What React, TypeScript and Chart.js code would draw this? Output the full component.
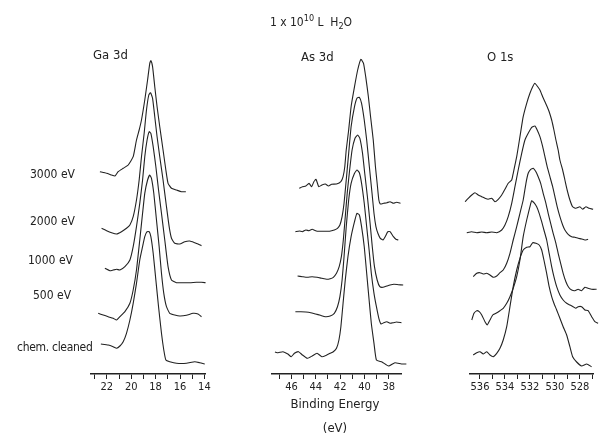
import { useEffect, useRef } from 'react';
import { Chart, registerables } from 'chart.js';

Chart.register(...registerables);

const INK = '#222';
const FONT = '"Liberation Sans Narrow", "DejaVu Sans Condensed", "Noto Sans", sans-serif';

// ---- tick values (eV) ----
const gaTicks = [14, 15, 16, 17, 18, 19, 20, 21, 22, 23];
const asTicks = [38, 39, 40, 41, 42, 43, 44, 45, 46, 47];
const oTicks = [527, 528, 529, 530, 531, 532, 533, 534, 535, 536];

// ---- labels ----
const spectraLabels = ['3000 eV', '2000 eV', '1000 eV', '500 eV', 'chem. cleaned'];
const panelTitles = ['Ga 3d', 'As 3d', 'O 1s'];

// ---- Ga 3d spectra: [binding energy eV, stacked intensity] ----
const ga3000: [number, number][] = [[22.57,202.3],[22.02,200.7],[21.61,199],[21.34,198],[21.07,202.3],[20.66,205.7],[20.25,209],[19.84,217.3],[19.57,234],[19.35,244],[19.16,254],[18.89,274],[18.66,294],[18.48,310.7],[18.39,313.3],[18.25,307.3],[18.07,287.3],[17.88,267.3],[17.66,247.3],[17.39,224],[17.16,204],[16.98,190.7],[16.70,185.7],[16.29,184],[15.88,182.3],[15.52,182.3]];
const ga2000: [number, number][] = [[22.43,145.7],[22.02,143.3],[21.61,141.3],[21.20,140],[20.80,142.3],[20.39,145.7],[20.11,149],[19.84,157.3],[19.57,174],[19.35,194],[19.16,217.3],[18.94,240.7],[18.75,264],[18.56,279],[18.42,281.3],[18.25,275.7],[18.07,257.3],[17.88,237.3],[17.66,217.3],[17.39,194],[17.11,167.3],[16.89,147.3],[16.70,135.7],[16.43,130.7],[16.02,130],[15.61,132.3],[15.20,133],[14.79,131.3],[14.52,130],[14.24,128.3]];
const ga1000: [number, number][] = [[22.16,105.7],[21.75,103.3],[21.48,104],[21.20,104.7],[20.93,104],[20.52,107.3],[20.11,114],[19.84,127.3],[19.57,147.3],[19.30,170.7],[19.07,194],[18.89,217.3],[18.70,234],[18.53,242.3],[18.39,240.7],[18.20,227.3],[17.98,207.3],[17.76,184],[17.52,160.7],[17.25,134],[16.98,107.3],[16.70,94],[16.29,91.3],[15.75,91.3],[15.20,91.3],[14.65,91.7],[14.24,91.7],[13.90,91.3]];
const ga500: [number, number][] = [[22.71,60.7],[22.30,59],[21.89,57.3],[21.48,55.7],[21.20,54],[20.93,57.3],[20.52,62.3],[20.11,70.7],[19.84,84],[19.57,104],[19.30,134],[19.07,160.7],[18.89,180.7],[18.66,194],[18.48,199],[18.34,195.7],[18.15,180.7],[17.93,154],[17.71,127.3],[17.52,100.7],[17.33,80.7],[17.11,67.3],[16.84,60.7],[16.43,59],[16.02,58],[15.47,58.7],[14.93,60.7],[14.52,60],[14.24,57.3]];
const gaClean: [number, number][] = [[22.49,30],[21.89,29],[21.48,27.3],[21.20,25.7],[20.93,28],[20.66,32.3],[20.39,40.7],[20.11,54],[19.84,70.7],[19.57,90.7],[19.30,114],[19.07,127.3],[18.89,137.3],[18.70,142.3],[18.53,142.3],[18.39,137.3],[18.20,120.7],[17.98,94],[17.76,67.3],[17.52,40.7],[17.33,24],[17.16,14],[16.84,12.3],[16.29,10.7],[15.47,10.7],[14.79,12.3],[14.38,11.3],[13.97,10]];

// ---- As 3d spectra ----
const as3000: [number, number][] = [[45.36,185.7],[45.10,187.3],[44.82,188],[44.56,190.7],[44.34,187.3],[44.16,192.3],[43.98,194.7],[43.76,187.3],[43.50,189],[43.22,190],[42.96,188],[42.70,189.7],[42.30,190],[41.94,192.3],[41.76,197.3],[41.62,207.3],[41.50,224],[41.30,244],[41.10,267.3],[40.82,287.3],[40.56,304],[40.30,314.7],[40.08,310.7],[39.90,297.3],[39.68,277.3],[39.50,257.3],[39.28,234],[39.10,207.3],[38.96,190.7],[38.82,174],[38.70,170],[38.42,170.7],[38.16,171.3],[37.90,172.3],[37.62,170.7],[37.36,171.7],[37.04,170.7]];
const as2000: [number, number][] = [[45.68,142.3],[45.36,143],[45.10,142.3],[44.82,144],[44.56,143.3],[44.30,144.7],[44.02,143.3],[43.76,142.7],[43.36,142.7],[42.96,142.7],[42.70,143.3],[42.48,144],[42.22,145.7],[42.02,149],[41.84,157.3],[41.68,170.7],[41.50,194],[41.30,220.7],[41.10,247.3],[40.82,267.3],[40.62,275.7],[40.42,276.7],[40.24,270.7],[40.02,254],[39.82,234],[39.60,207.3],[39.38,180.7],[39.22,160.7],[39.06,147.3],[38.90,140.7],[38.70,135.7],[38.48,134],[38.30,137.3],[38.08,142.3],[37.90,142.3],[37.62,137.3],[37.42,134.7],[37.22,134]];
const as1000: [number, number][] = [[45.50,98],[45.10,97.3],[44.70,96.7],[44.30,97.3],[43.90,96.7],[43.50,95.7],[43.10,94.7],[42.82,95.3],[42.56,96.7],[42.30,100.7],[42.08,107.3],[41.90,117.3],[41.74,134],[41.58,157.3],[41.42,180.7],[41.22,204],[41.02,224],[40.78,235.7],[40.56,239],[40.38,235.7],[40.16,220.7],[39.98,200.7],[39.76,177.3],[39.54,150.7],[39.36,127.3],[39.18,107.3],[38.96,94],[38.74,87.3],[38.48,86.7],[38.16,88],[37.90,89],[37.58,89.7],[37.22,89.3],[36.82,89]];
const as500: [number, number][] = [[45.68,62.3],[45.22,62.3],[44.82,62],[44.42,61.3],[44.02,60],[43.62,58.7],[43.22,57.3],[42.82,58],[42.48,60.7],[42.22,67.3],[42.02,77.3],[41.84,94],[41.68,117.3],[41.50,147.3],[41.30,174],[41.10,190.7],[40.82,200.7],[40.62,204],[40.42,201.3],[40.24,190.7],[40.02,170.7],[39.82,147.3],[39.62,124],[39.44,100.7],[39.22,80.7],[39.02,67.3],[38.82,55.7],[38.64,50],[38.42,51.3],[38.16,52.3],[37.90,50.7],[37.62,51.3],[37.36,52],[36.96,51.3]];
const asClean: [number, number][] = [[47.36,22],[47.10,21.3],[46.70,22.3],[46.30,20],[46.02,17.3],[45.76,20.7],[45.42,22.3],[45.10,19],[44.70,15.7],[44.30,18],[43.90,20.7],[43.50,17.3],[43.10,19],[42.82,20.7],[42.56,22.3],[42.30,25.7],[42.10,34],[41.94,47.3],[41.76,70.7],[41.58,94],[41.36,117.3],[41.10,137.3],[40.82,152.3],[40.62,160.7],[40.42,159],[40.24,147.3],[40.02,127.3],[39.82,100.7],[39.62,74],[39.44,50.7],[39.22,30.7],[39.02,14],[38.56,12],[38.02,8],[37.50,11.3],[36.96,10],[36.56,10]];

// ---- O 1s spectra ----
const o3000: [number, number][] = [[537.2,172.3],[536.94,175.7],[536.66,179],[536.4,181.3],[536.14,179],[535.86,177.3],[535.6,175.7],[535.34,174.7],[535.06,175.7],[534.8,172.3],[534.54,174.7],[534.26,179],[534.0,184.7],[533.74,190.7],[533.46,194],[533.34,200.7],[533.06,217.3],[532.8,237.3],[532.54,257.3],[532.26,270.7],[532.0,280.7],[531.78,287.3],[531.6,290.7],[531.42,288],[531.2,284],[530.98,277.3],[530.8,272.3],[530.62,267.3],[530.46,262.3],[530.26,254],[530.08,244],[529.92,234],[529.74,224],[529.6,214],[529.38,204],[529.2,194],[529.02,184],[528.8,174],[528.58,167.3],[528.32,165.7],[528.0,167.3],[527.78,164.7],[527.52,167.3],[527.26,165.7],[526.94,164.7]];
const o2000: [number, number][] = [[537.06,141.3],[536.66,142.3],[536.26,141.3],[535.86,142],[535.46,141.3],[535.06,142],[534.66,141.3],[534.26,144],[534.0,149],[533.74,157.3],[533.46,170.7],[533.2,187.3],[532.94,204],[532.66,220.7],[532.4,234],[532.14,240.7],[531.86,246.7],[531.6,248],[531.42,244],[531.2,237.3],[530.98,227.3],[530.8,217.3],[530.62,207.3],[530.4,197.3],[530.18,187.3],[530.0,177.3],[529.82,167.3],[529.6,157.3],[529.38,149],[529.2,144],[528.94,139.7],[528.66,137.3],[528.4,136.7],[528.14,135.7],[527.86,135],[527.6,134],[527.34,134.7]];
const o1000: [number, number][] = [[536.54,97.3],[536.26,100.7],[536.0,101.3],[535.74,100],[535.46,100.7],[535.2,99],[534.94,96.7],[534.66,98],[534.4,101.3],[534.14,104],[533.86,110.7],[533.6,120.7],[533.34,134],[533.06,147.3],[532.8,160.7],[532.54,174],[532.32,190.7],[532.14,200.7],[531.94,204.7],[531.74,205.7],[531.52,202.3],[531.34,197.3],[531.14,190.7],[530.94,180.7],[530.72,170.7],[530.54,160.7],[530.34,150.7],[530.14,140.7],[529.92,130.7],[529.74,120.7],[529.54,110.7],[529.34,100.7],[529.12,92.3],[528.9,86.7],[528.66,84],[528.4,83.3],[528.14,84.7],[527.86,83.3],[527.6,86.7],[527.34,85.7],[527.06,84.7],[526.66,84.7]];
const o500: [number, number][] = [[536.66,54],[536.48,60.7],[536.26,63.3],[536.06,62.3],[535.86,59],[535.6,52.3],[535.42,49],[535.2,54],[534.98,59],[534.72,60.7],[534.4,63.3],[534.14,65.7],[533.86,70.7],[533.6,77.3],[533.34,85.7],[533.06,97.3],[532.8,114],[532.54,137.3],[532.26,154],[532.0,167.3],[531.86,173.3],[531.68,171.3],[531.46,167.3],[531.26,160.7],[531.06,152.3],[530.88,144],[530.66,134],[530.46,120.7],[530.26,107.3],[530.08,97.3],[529.86,87.3],[529.6,79],[529.34,74],[529.06,70.7],[528.8,69],[528.54,67.3],[528.32,65.7],[528.14,67.3],[527.86,67.3],[527.6,64],[527.34,63.3],[527.06,57.3],[526.8,52.3],[526.54,50.7]];
const oClean: [number, number][] = [[536.54,19],[536.26,21.3],[536.0,22.3],[535.74,20],[535.46,22.3],[535.2,19],[534.94,17.3],[534.66,20.7],[534.4,25.7],[534.14,34],[533.86,47.3],[533.6,67.3],[533.34,87.3],[533.06,104],[532.8,115.7],[532.54,124],[532.26,126.7],[532.0,127.3],[531.78,131.3],[531.52,130.7],[531.26,129],[531.06,124],[530.88,114],[530.66,100.7],[530.46,87.3],[530.26,77.3],[530.08,70.7],[529.86,64],[529.6,55.7],[529.34,47.3],[529.06,39],[528.8,27.3],[528.58,17.3],[528.26,12],[527.86,8],[527.46,10],[527.06,7.3]];

const Y_MAX = 334;
const AXIS_Y = 374;
const CANVAS_H = 404;

type PanelProps = {
  left: number;
  width: number;
  padL: number;
  padR: number;
  min: number;
  max: number;
  ticks: number[];
  curves: [number, number][][];
};

function Panel({ left, width, padL, padR, min, max, ticks, curves }: PanelProps) {
  const ref = useRef<HTMLCanvasElement>(null);
  useEffect(() => {
    const chart = new Chart(ref.current as HTMLCanvasElement, {
      type: 'line',
      data: {
        datasets: curves.map((c) => ({
          data: c.map(([x, y]) => ({ x, y })),
          borderColor: INK,
          borderWidth: 1.1,
          pointRadius: 0,
          tension: 0.15,
          fill: false,
          clip: false,
        })),
      },
      options: {
        animation: false,
        responsive: false,
        events: [],
        layout: { padding: { left: padL, right: padR, top: AXIS_Y - Y_MAX, bottom: 0 } },
        plugins: { legend: { display: false }, tooltip: { enabled: false } },
        scales: {
          x: {
            type: 'linear',
            reverse: true,
            min,
            max,
            afterBuildTicks: (s: any) => {
              s.ticks = ticks.map((v) => ({ value: v }));
            },
            afterFit: (s: any) => {
              s.height = CANVAS_H - AXIS_Y;
            },
            ticks: {
              autoSkip: false,
              maxRotation: 0,
              padding: 2,
              color: INK,
              font: { family: FONT, size: 11 },
              callback: (v: any) => (Math.round(Number(v)) % 2 === 0 ? String(v) : ''),
            },
            grid: { drawOnChartArea: false, drawTicks: true, tickLength: 5, color: INK, lineWidth: 1 },
            border: { display: true, color: INK, width: 1.5 },
          },
          y: { display: false, min: 0, max: Y_MAX },
        },
      },
    } as any);
    return () => chart.destroy();
  }, []);
  return (
    <canvas
      ref={ref}
      width={width}
      height={CANVAS_H}
      style={{ position: 'absolute', left, top: 0, width, height: CANVAS_H }}
    />
  );
}

const txt = (extra: any) => ({
  position: 'absolute' as const,
  fontFamily: FONT,
  fontSize: 12,
  lineHeight: '14px',
  color: INK,
  whiteSpace: 'nowrap' as const,
  ...extra,
});

export default function App() {
  const labelTops = [167, 214, 253, 288, 340];
  const labelLefts = [30, 30, 28, 33, 17];
  return (
    <div style={{ position: 'absolute', left: 0, top: 0, width: 601, height: 437, background: '#fff', overflow: 'hidden' }}>
      <Panel left={71} width={154} padL={20} padR={20} min={13.95} max={23.3} ticks={gaTicks} curves={[ga3000, ga2000, ga1000, ga500, gaClean]} />
      <Panel left={252} width={169} padL={20} padR={20} min={37.0} max={47.6} ticks={asTicks} curves={[as3000, as2000, as1000, as500, asClean]} />
      <Panel left={450} width={151} padL={20} padR={8} min={526.95} max={536.8} ticks={oTicks} curves={[o3000, o2000, o1000, o500, oClean]} />

      <div style={txt({ left: 311, top: 15, transform: 'translateX(-50%)' })}>
        1 x 10<sup style={{ fontSize: 9, verticalAlign: 5, lineHeight: 0 }}>10</sup> L&nbsp; H<sub style={{ fontSize: 9, verticalAlign: -3, lineHeight: 0 }}>2</sub>O
      </div>

      <div style={txt({ left: 93, top: 48, fontSize: 13 })}>{panelTitles[0]}</div>
      <div style={txt({ left: 301, top: 50, fontSize: 13 })}>{panelTitles[1]}</div>
      <div style={txt({ left: 487, top: 50, fontSize: 13 })}>{panelTitles[2]}</div>

      {spectraLabels.map((l, i) => (
        <div key={l} style={txt({ left: labelLefts[i], top: labelTops[i], letterSpacing: i === 4 ? -0.3 : 0 })}>{l}</div>
      ))}

      <div style={txt({ left: 335, top: 397, transform: 'translateX(-50%)', fontSize: 13 })}>Binding Energy</div>
      <div style={txt({ left: 335, top: 421, transform: 'translateX(-50%)', fontSize: 13 })}>(eV)</div>
    </div>
  );
}
